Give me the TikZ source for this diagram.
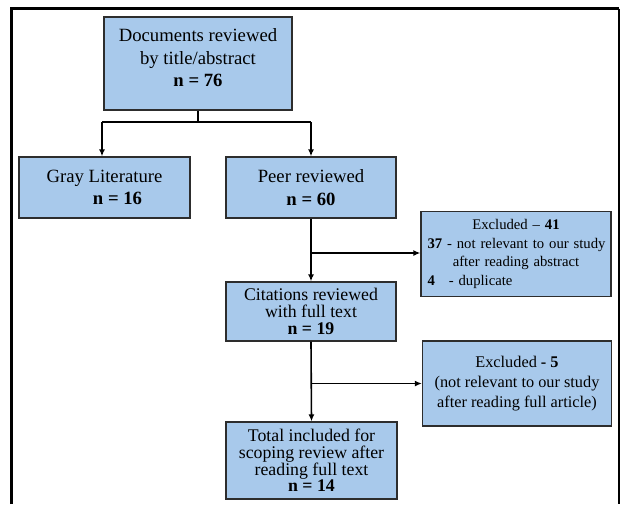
\documentclass[tikz,border=0pt]{standalone}
\usepackage{fontspec}
\setmainfont{Liberation Serif}
\usetikzlibrary{arrows.meta}
\definecolor{boxblue}{RGB}{168,201,235}
\definecolor{boxline}{RGB}{45,45,45}
\begin{document}
\begin{tikzpicture}[x=1pt,y=-1pt,
  box/.style={draw=boxline, fill=boxblue, line width=1.3pt, inner sep=0pt, align=center},
  big/.style={font=\fontsize{18.7}{22.5}\selectfont},
  tight/.style={font=\fontsize{17.8}{16.6}\selectfont},
  conn/.style={line width=1.6pt, draw=black},
  arr/.style={conn, -{Latex[length=7pt,width=6pt]}}
]
\useasboundingbox (0,0) rectangle (623,504);
\fill[white] (0,0) rectangle (623,504);
% frame
\draw[line width=2.4pt] (11.5,504) -- (11.5,8.5) -- (619,8.5);
\draw[line width=1.6pt] (619,8.5) -- (619,504);

\node[box, minimum width=188pt, minimum height=93pt,
  label={[big, align=center, yshift=5.5pt]center:{Documents reviewed\\by title/abstract\\\textbf{n = 76}}}] (top) at (198,63.5) {};
\node[box, big, minimum width=171pt, minimum height=61pt] (gray) at (104.5,187.5)
  {Gray Literature\\\hspace*{26pt}\textbf{n = 16}};
\node[box, big, minimum width=170pt, minimum height=61pt] (peer) at (311,187.5)
  {Peer reviewed\\\textbf{n = 60}};
\node[box, font=\fontsize{14.7}{18.5}\selectfont, minimum width=190pt, minimum height=85pt, text width=177pt] (ex41) at (516,254)
  {Excluded -- \textbf{41}\\
   \makebox[\hsize][l]{\textbf{37} - not relevant to our study}\\
   after reading abstract\\
   \makebox[\hsize][l]{\textbf{4}\hspace{0.95em}- duplicate}};
\node[box, tight, minimum width=170pt, minimum height=59pt] (cit) at (311,311.5)
  {Citations reviewed\\with full text\\\textbf{n = 19}};
\node[box, font=\fontsize{16.3}{20}\selectfont, minimum width=189pt, minimum height=85pt] (ex5) at (517,383.5)
  {Excluded \textbf{- 5}\\(not relevant to our study\\after reading full article)};
\node[box, tight, minimum width=171pt, minimum height=77pt] (total) at (311.5,460.5)
  {Total included for\\scoping review after\\reading full text\\\textbf{n = 14}};

\coordinate (j1) at (198,122);
\coordinate (jl) at (102,122);
\coordinate (jr) at (311,122);
\coordinate (b1) at (311,253);
\coordinate (b2) at (311,383.5);

\draw[conn] (top.south) -- (j1);
\draw[conn] (jl) -- (jr);
\draw[arr] (jl) -- (jl |- gray.north);
\draw[arr] (jr) -- (peer.north);
\draw[arr] (peer.south) -- (cit.north);
\draw[arr] (b1) -- (b1 -| ex41.west);
\draw[arr] (cit.south) -- (total.north);
\draw[arr] (b2) -- (ex5.west);
\end{tikzpicture}
\end{document}
